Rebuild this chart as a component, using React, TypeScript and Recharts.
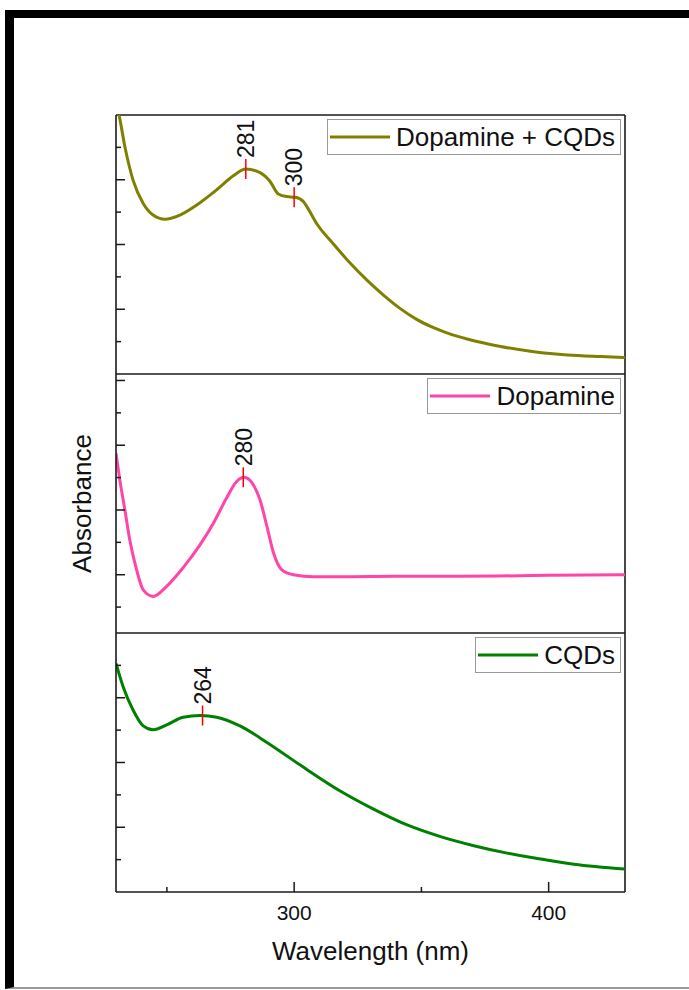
import React from "react"
import { LineChart, Line, XAxis, YAxis, ReferenceLine, ReferenceDot, Legend } from "recharts"

const FONT = '"Liberation Sans", Arial, sans-serif'
const AXIS = "#1a1a1a"

// Dopamine + CQDs
const mixWavelength = [230, 231.2, 233.5, 236.7, 240.7, 244.6, 249.2, 255.1, 263.0, 269.6, 276.1, 281.0, 286.6, 290.6, 293.8, 297.1, 300.4, 303.7, 305.0, 308.9, 315.5, 321.7, 328.6, 335.2, 341.7, 348.3, 354.8, 361.4, 368.0, 381.1, 394.2, 407.4, 420.5, 430]
const mixAbsorbance = [8.4, 8.0, 7.02, 5.99, 5.27, 4.91, 4.78, 4.91, 5.29, 5.69, 6.12, 6.33, 6.22, 5.94, 5.56, 5.48, 5.46, 5.32, 5.17, 4.64, 4.01, 3.45, 2.9, 2.43, 2.02, 1.68, 1.43, 1.23, 1.08, 0.85, 0.69, 0.59, 0.54, 0.51]
const mixPeaks = [281, 300]
const mixPeakAbs = [6.33, 5.46]

// Dopamine
const dopWavelength = [230, 231.5, 233.5, 235.4, 238.1, 240.7, 244.6, 249.9, 256.4, 263.0, 268.2, 273.5, 277.4, 280.3, 284.0, 286.6, 289.3, 291.9, 295.2, 299.7, 307.6, 322, 340, 360, 380, 400, 430]
const dopAbsorbance = [5.75, 4.93, 4.0, 3.08, 2.15, 1.53, 1.33, 1.64, 2.22, 2.92, 3.58, 4.38, 4.88, 5.01, 4.77, 4.31, 3.49, 2.67, 2.15, 2.0, 1.94, 1.94, 1.95, 1.95, 1.96, 1.98, 2.0]
const dopPeaks = [280]
const dopPeakAbs = [5.01]

// CQDs
const cqdWavelength = [230, 232.8, 236.7, 240.7, 244.6, 249.9, 256.4, 263.0, 269.6, 278.7, 289.3, 302.4, 318.1, 331.2, 344.4, 357.5, 370.6, 383.7, 396.9, 410.0, 430]
const cqdAbsorbance = [7.06, 6.34, 5.62, 5.13, 5.01, 5.16, 5.40, 5.45, 5.40, 5.13, 4.62, 3.92, 3.12, 2.56, 2.07, 1.71, 1.43, 1.20, 1.02, 0.86, 0.71]
const cqdPeaks = [264]
const cqdPeakAbs = [5.45]

const xTicks = [250, 300, 350, 400]
const xLabeled = [300, 400]
const yTicksA = [1, 2, 3, 4, 5, 6, 7]
const yMajorA = [2, 4, 6]
const yTicksB = [1, 2, 3, 4, 5, 6, 7, 8]
const yMajorB = [2, 4, 6, 8]

const YTick = (props: any) => {
	const { x, y, payload, major } = props
	const len = major.includes(payload.value) ? 9 : 5
	return <line x1={x} x2={x + len} y1={y} y2={y} stroke={AXIS} strokeWidth={1.5} />
}

const XTick = (props: any) => {
	const { x, y, payload } = props
	const labeled = xLabeled.includes(payload.value)
	return (
		<g>
			<line x1={x} x2={x} y1={y} y2={y - (labeled ? 10 : 5)} stroke={AXIS} strokeWidth={1.5} />
			{labeled && (
				<text x={x} y={y + 28} textAnchor="middle" fontSize={21} fontFamily={FONT} fill="#111">
					{payload.value}
				</text>
			)}
		</g>
	)
}

const PeakMark = (props: any) => {
	const { cx, cy, text } = props
	const ty = cy - 11
	return (
		<g>
			<line x1={cx} x2={cx} y1={cy - 10} y2={cy + 10} stroke="#ff0000" strokeWidth={1.5} />
			<text
				x={cx}
				y={ty}
				dy="0.36em"
				transform={`rotate(-90 ${cx} ${ty})`}
				fontSize={23}
				fontFamily={FONT}
				fill="#111"
			>
				{text}
			</text>
		</g>
	)
}

const LegendBox = ({ name, color }: { name: string; color: string }) => (
	<div
		style={{
			display: "flex",
			alignItems: "center",
			border: "1px solid #999",
			background: "#fff",
			height: 34,
			padding: "0 5px 0 2px",
			fontFamily: FONT,
			fontSize: 26,
			lineHeight: "34px",
			color: "#111",
			whiteSpace: "nowrap",
		}}
	>
		<svg width={60} height={6} style={{ marginRight: 6 }}>
			<line x1={0} x2={60} y1={3} y2={3} stroke={color} strokeWidth={3} />
		</svg>
		<span>{name}</span>
	</div>
)

type PanelProps = {
	name: string
	color: string
	wavelength: number[]
	absorbance: number[]
	peaks: number[]
	peakAbs: number[]
	domain: [number, number]
	yTicks: number[]
	yMajor: number[]
	top: number
	bottomAxis?: boolean
	yTitle?: string
}

const Panel: React.FC<PanelProps> = ({
	name,
	color,
	wavelength,
	absorbance,
	peaks,
	peakAbs,
	domain,
	yTicks,
	yMajor,
	top,
	bottomAxis,
	yTitle,
}) => {
	const data = wavelength.map((w, i) => ({ w, a: absorbance[i] }))
	return (
		<div style={{ position: "absolute", left: 0, top }}>
			<LineChart
				width={689}
				height={bottomAxis ? 354 : 279}
				data={data}
				margin={{ top: 10, right: 64, bottom: bottomAxis ? 5 : 10, left: 56 }}
			>
				<XAxis
					type="number"
					dataKey="w"
					domain={[230, 430]}
					allowDataOverflow
					ticks={bottomAxis ? xTicks : []}
					interval={0}
					tickLine={false}
					tickSize={0}
					tickMargin={0}
					tick={bottomAxis ? XTick : false}
					height={bottomAxis ? 80 : 0}
					axisLine={{ stroke: AXIS, strokeWidth: 1.6 }}
					label={
						bottomAxis
							? {
									value: "Wavelength (nm)",
									position: "insideTop",
									offset: 50,
									fontSize: 26,
									fontFamily: FONT,
									fill: "#111",
							  }
							: undefined
					}
				/>
				<YAxis
					type="number"
					domain={domain}
					allowDataOverflow
					ticks={yTicks}
					interval={0}
					tickLine={false}
					tickSize={0}
					tickMargin={0}
					width={60}
					tick={(p: any) => <YTick {...p} major={yMajor} />}
					axisLine={{ stroke: AXIS, strokeWidth: 1.6 }}
					label={
						yTitle
							? {
									value: yTitle,
									angle: -90,
									position: "insideLeft",
									offset: 26,
									fontSize: 26,
									fontFamily: FONT,
									fill: "#111",
									style: { textAnchor: "middle" },
							  }
							: undefined
					}
				/>
				<ReferenceLine y={domain[1]} stroke={AXIS} strokeWidth={1.6} />
				<ReferenceLine x={430} stroke={AXIS} strokeWidth={1.6} />
				<Legend
					layout="vertical"
					align="center"
					verticalAlign="middle"
					wrapperStyle={{ top: 14, right: 68, left: "auto", width: "auto" }}
					content={() => <LegendBox name={name} color={color} />}
				/>
				<Line
					type="monotone"
					dataKey="a"
					name={name}
					stroke={color}
					strokeWidth={3}
					dot={false}
					activeDot={false}
					isAnimationActive={false}
				/>
				{peaks.map((p, i) => (
					<ReferenceDot
						key={p}
						x={p}
						y={peakAbs[i]}
						r={0}
						shape={(s: any) => <PeakMark {...s} text={String(p)} />}
					/>
				))}
			</LineChart>
		</div>
	)
}

export default function App() {
	return (
		<div
			style={{
				position: "absolute",
				left: 0,
				top: 0,
				width: 689,
				height: 990,
				background: "#fff",
				overflow: "hidden",
			}}
		>
			<div
				style={{
					position: "absolute",
					left: 5,
					top: 10,
					width: 684,
					height: 979,
					boxSizing: "border-box",
					borderTop: "8px solid #000",
					borderLeft: "9px solid #000",
					borderBottom: "2px solid #999",
				}}
			/>
			<Panel
				name="Dopamine + CQDs"
				color="#808000"
				wavelength={mixWavelength}
				absorbance={mixAbsorbance}
				peaks={mixPeaks}
				peakAbs={mixPeakAbs}
				domain={[0, 8]}
				yTicks={yTicksA}
				yMajor={yMajorA}
				top={105}
			/>
			<Panel
				name="Dopamine"
				color="#ff45a8"
				wavelength={dopWavelength}
				absorbance={dopAbsorbance}
				peaks={dopPeaks}
				peakAbs={dopPeakAbs}
				domain={[0.2, 8.2]}
				yTicks={yTicksB}
				yMajor={yMajorB}
				top={364}
				yTitle="Absorbance"
			/>
			<Panel
				name="CQDs"
				color="#008000"
				wavelength={cqdWavelength}
				absorbance={cqdAbsorbance}
				peaks={cqdPeaks}
				peakAbs={cqdPeakAbs}
				domain={[0, 8]}
				yTicks={yTicksA}
				yMajor={yMajorA}
				top={623}
				bottomAxis
			/>
		</div>
	)
}
